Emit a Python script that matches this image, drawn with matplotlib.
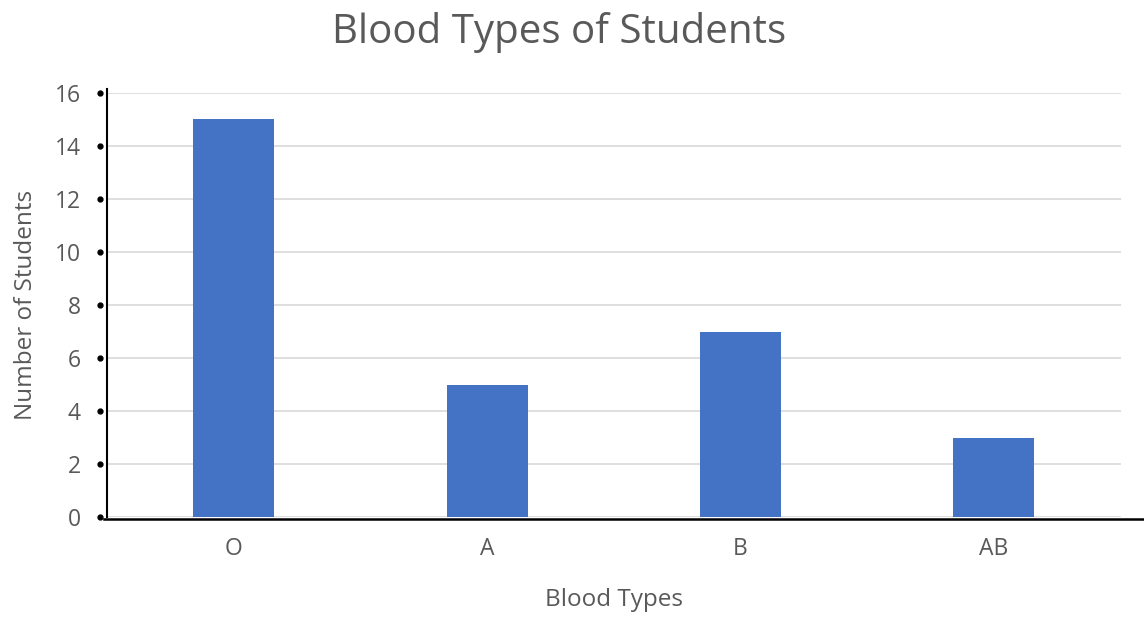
import matplotlib.pyplot as plt
import matplotlib.transforms as mtransforms

# data
blood_types = ["O", "A", "B", "AB"]
students = [15, 5, 7, 3]
y_ticks = [0, 2, 4, 6, 8, 10, 12, 14, 16]

BAR_COLOR = "#4472C4"
TEXT_COLOR = "#595959"
GRID_COLOR = "#D9D9D9"

plt.rcParams["font.family"] = ["Open Sans", "DejaVu Sans"]

fig = plt.figure(figsize=(11.44, 6.18), dpi=100)
ax = fig.add_axes([0.0935, 0.163, 0.886, 0.687])

ax.bar(range(len(blood_types)), students, width=0.32, color=BAR_COLOR, zorder=3)

ax.set_xlim(-0.5, len(blood_types) - 0.5)
ax.set_ylim(0, 16)
ax.set_yticks(y_ticks)
ax.set_xticks(range(len(blood_types)))
ax.set_xticklabels(blood_types)
ax.tick_params(axis="both", length=0, colors=TEXT_COLOR, labelsize=16.5)
ax.tick_params(axis="y", pad=19)
ax.tick_params(axis="x", pad=14)

ax.grid(axis="y", color=GRID_COLOR, linewidth=1.2, zorder=0)
for side in ["top", "right", "bottom"]:
    ax.spines[side].set_visible(False)
ax.spines["left"].set_color("black")
ax.spines["left"].set_linewidth(1.5)
ax.spines["left"].set_bounds(0, 16.15)

# bottom axis line runs to the right edge of the picture
ax.plot([-0.003, 1.03], [-0.004, -0.004], transform=ax.transAxes,
        color="black", linewidth=1.8, clip_on=False, zorder=4)

# small black dots next to the y axis
trans = mtransforms.blended_transform_factory(ax.transAxes, ax.transData)
ax.plot([-0.007] * len(y_ticks), y_ticks, "o", color="black", markersize=3.5,
        transform=trans, clip_on=False, zorder=4)

ax.set_xlabel("Blood Types", fontsize=17.5, color=TEXT_COLOR, labelpad=20)
ax.set_ylabel("Number of Students", fontsize=17.5, color=TEXT_COLOR, labelpad=12)
fig.suptitle("Blood Types of Students", fontsize=29, color=TEXT_COLOR,
             x=0.489, y=0.98)

fig.savefig("out.png", dpi=100)
